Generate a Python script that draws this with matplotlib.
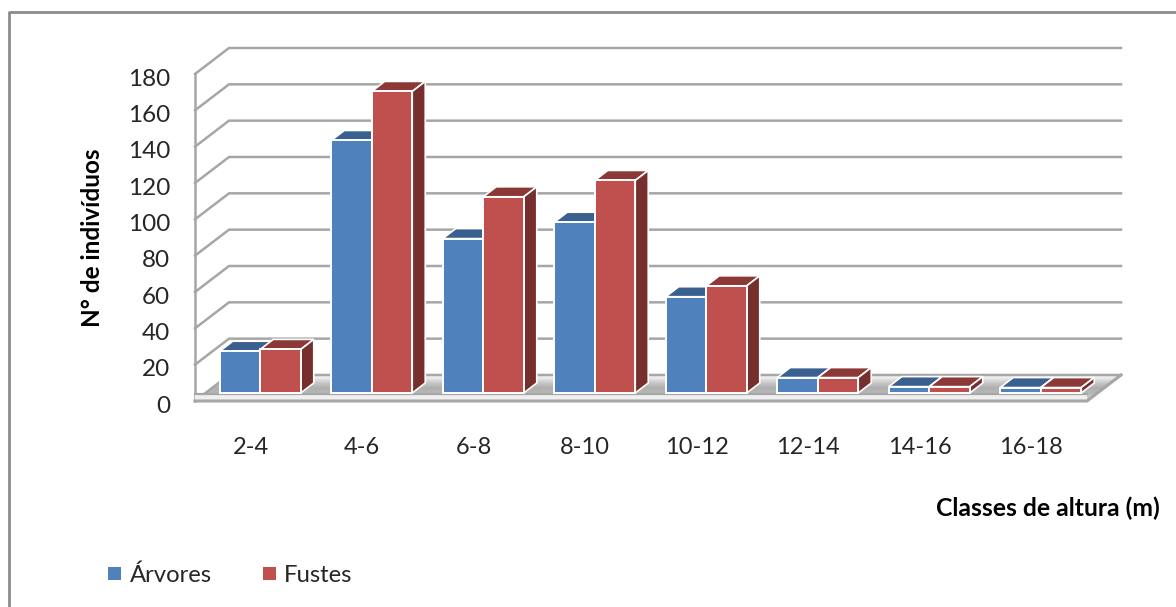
import numpy as np
import matplotlib
matplotlib.use("Agg")
import matplotlib.pyplot as plt
from matplotlib.lines import Line2D
from matplotlib.patches import Polygon, Rectangle

# Data
classes = ["2-4", "4-6", "6-8", "8-10", "10-12", "12-14", "14-16", "16-18"]
arvores = [23, 139, 85, 94, 53, 8.5, 3.5, 3]
fustes = [24, 166, 108, 117, 59, 8.5, 3.5, 3]
y_ticks = [0, 20, 40, 60, 80, 100, 120, 140, 160, 180]

W, H = 1176, 607
X0, X_STEP = 195, 111.5    # left of the front plane, width of one class
Y0, Y_STEP = 401, 1.8167   # baseline of the front plane, pixels per individual

plt.rcParams["font.family"] = ["Lato", "DejaVu Sans"]
fig = plt.figure(figsize=(W / 100, H / 100), dpi=100)
ax = fig.add_axes([0, 0, 1, 1])
ax.axis("off")

# Depth of the chart box and of the bars, in data units
wall_dx, wall_dy = 34 / X_STEP, 26 / Y_STEP
bar_off_x, bar_off_y = 9.5 / X_STEP, 8 / Y_STEP
bar_dx, bar_dy = 13 / X_STEP, 10 / Y_STEP
bar_w = 40.5 / X_STEP
n = len(classes)

GRID = "#a6a6a6"

# Floor with its gradient, clipped to the parallelogram
floor = Polygon([(0, 0), (n, 0), (n + wall_dx, wall_dy), (wall_dx, wall_dy)],
                closed=True, fc="none", ec="none")
ax.add_patch(floor)
shade = np.array([0.93, 0.78, 0.68, 0.72, 0.8]).reshape(-1, 1)
img = ax.imshow(shade, cmap="gray", vmin=0, vmax=1, aspect="auto",
                extent=(0, n + wall_dx, 0, wall_dy), interpolation="bilinear",
                zorder=1)
img.set_clip_path(floor)
ax.set_xlim(-X0 / X_STEP, (W - X0) / X_STEP)
ax.set_ylim((Y0 - H) / Y_STEP, Y0 / Y_STEP)

# Gridlines on the back wall and the side wall
for v in y_ticks:
    ax.add_line(Line2D([0, wall_dx, n + wall_dx], [v, v + wall_dy, v + wall_dy],
                       color=GRID, lw=1.8, zorder=2))
ax.add_line(Line2D([0, 0], [0, 180], color=GRID, lw=1.8, zorder=2))

# Front edge of the floor slab
ax.add_patch(Rectangle((0, 0), n, 3.3, fc="#efefef", ec="none", zorder=2))
ax.add_line(Line2D([0, n], [3.6, 3.6], color=GRID, lw=1.6, zorder=2))
ax.add_line(Line2D([0, n, n + wall_dx], [0, 0, wall_dy], color=GRID, lw=2.2, zorder=2))


def draw_bar(x, value, front, top, side, z):
    # Bar is built from its three visible faces
    y = bar_off_y
    xl, xr = x, x + bar_w
    ax.add_patch(Polygon([(xl, y + value), (xr, y + value),
                          (xr + bar_dx, y + value + bar_dy), (xl + bar_dx, y + value + bar_dy)],
                         closed=True, fc=top, ec="white", lw=1.2, zorder=z))
    ax.add_patch(Polygon([(xr, y), (xr + bar_dx, y + bar_dy),
                          (xr + bar_dx, y + value + bar_dy), (xr, y + value)],
                         closed=True, fc=side, ec="white", lw=1.2, zorder=z))
    ax.add_patch(Rectangle((xl, y), bar_w, value, fc=front, ec="white", lw=1.4, zorder=z + 0.1))


for i in range(n):
    # Blue first, so the red bar hides its right side
    center = i + 0.5 + bar_off_x
    draw_bar(center - bar_w, arvores[i], "#4f81bd", "#3a6090", "#2f5078", 3 + i)
    draw_bar(center, fustes[i], "#c0504d", "#8c3836", "#772f2d", 3.3 + i)

# Axis text
TEXT = "#262626"
for v in y_ticks:
    ax.text(-25 / X_STEP, v - 2.8, str(v), ha="right", va="center",
            fontsize=17.5, color=TEXT)
for i, c in enumerate(classes):
    ax.text(i + 0.5 + bar_off_x - 9.5 / X_STEP, -25.5, c, ha="center", va="center",
            fontsize=17, color=TEXT)

fig.text(93 / W, 1 - 238 / H, "N° de indivíduos", rotation=90, ha="center", va="center",
         fontsize=17.5, fontweight="bold", color="black")
fig.text(1048 / W, 1 - 508 / H, "Classes de altura (m)", ha="center", va="center",
         fontsize=17.8, fontweight="bold", color="black")

# Legend
for x, color, label, tx in [(108, "#4f81bd", "Árvores", 130), (263, "#c0504d", "Fustes", 284)]:
    fig.add_artist(Rectangle((x / W, 1 - 580 / H), 13 / W, 13 / H, fc=color, ec="none",
                             transform=fig.transFigure))
    fig.text(tx / W, 1 - 575 / H, label, ha="left", va="center", fontsize=17.2, color=TEXT)

# Frame of the chart area
fig.add_artist(Line2D([8.5 / W, 8.5 / W, 1], [0, 1 - 11.5 / H, 1 - 11.5 / H],
                      color="#8c8c8c", lw=2, transform=fig.transFigure))

fig.savefig("out.png", dpi=100)
